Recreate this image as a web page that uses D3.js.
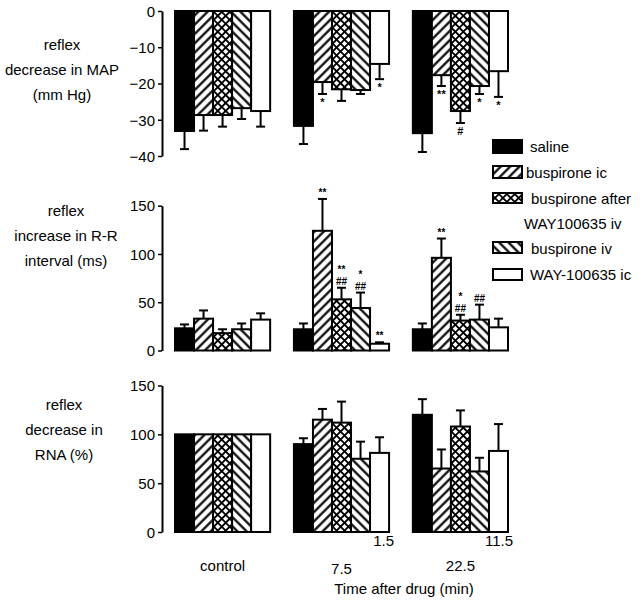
<!DOCTYPE html>
<html><head><meta charset="utf-8">
<script src="https://cdn.jsdelivr.net/npm/d3@7"></script>
<style>body{margin:0;background:#fff}svg{display:block}text{font-family:"Liberation Sans",Arial,sans-serif;fill:#000}</style>
</head><body><svg id="c" width="640" height="602"></svg>
<script>
const groups = ["control", "7.5", "22.5"];
const series = ["saline", "buspirone ic", "buspirone after WAY100635 iv", "buspirone iv", "WAY-100635 ic"];
const legendLines = [["saline"], ["buspirone ic"], ["buspirone after", "WAY100635 iv"], ["buspirone iv"], ["WAY-100635 ic"]];

// reflex decrease in MAP (mm Hg)
const mapMean = [[-33.1, -28.7, -28.7, -26.8, -27.6], [-31.7, -19.6, -21.6, -21.8, -14.6], [-33.7, -17.7, -27.6, -20.7, -16.6]];
const mapErr  = [[5.0, 4.3, 3.2, 3.0, 4.3], [5.0, 3.3, 3.2, 1.1, 4.2], [5.2, 3.0, 3.3, 2.2, 7.1]];
const mapTicks = [0, -10, -20, -30, -40];
const mapNotes = [["7.5", 1, ["*"]], ["7.5", 4, ["*"]], ["22.5", 1, ["**"]], ["22.5", 2, ["#"]], ["22.5", 3, ["*"]], ["22.5", 4, ["*"]]];

// reflex increase in R-R interval (ms)
const rrMean = [[23, 33, 18, 22, 32], [22, 124, 53, 44, 7], [22, 96, 31, 32, 24]];
const rrErr  = [[4, 8.5, 4, 6, 6.5], [6, 33, 12, 16, 1.5], [6, 20, 6, 15.5, 9]];
const rrTicks = [0, 50, 100, 150];
const rrNotes = [["7.5", 1, ["**"]], ["7.5", 2, ["**", "##"]], ["7.5", 3, ["*", "##"]], ["7.5", 4, ["**"]], ["22.5", 1, ["**"]], ["22.5", 2, ["*", "##"]], ["22.5", 3, ["##"]]];

// reflex decrease in RNA (%)
const rnaMean = [[100, 100, 100, 100, 100], [90, 115, 112, 75, 81], [120, 65, 108, 62, 83]];
const rnaErr  = [[0, 0, 0, 0, 0], [6, 11, 21.5, 17.5, 16], [16, 19.5, 16.5, 14, 27.5]];
const rnaTicks = [0, 50, 100, 150];

const xLabels = ["control", "7.5", "22.5"];
const extraLabels = [["7.5", "1.5"], ["22.5", "11.5"]];

const svg = d3.select("#c");
const defs = svg.append("defs");
function hatch(id, angle, period, w, cross) {
  const p = defs.append("pattern").attr("id", id).attr("patternUnits", "userSpaceOnUse")
    .attr("width", period).attr("height", period).attr("patternTransform", `rotate(${angle})`);
  p.append("rect").attr("width", period).attr("height", period).attr("fill", "#fff");
  p.append("line").attr("x1", period / 2).attr("x2", period / 2).attr("y1", 0).attr("y2", period)
    .attr("stroke", "#000").attr("stroke-width", w);
  if (cross) p.append("line").attr("y1", period / 2).attr("y2", period / 2).attr("x1", 0).attr("x2", period)
    .attr("stroke", "#000").attr("stroke-width", w);
}
hatch("fw", 45, 6.6, 2.2);
hatch("xh", 45, 5.6, 1.9, true);
hatch("bw", -45, 6.6, 2.2);
const fills = ["#000", "url(#fw)", "url(#xh)", "url(#bw)", "#fff"];

const x0 = d3.scaleBand().domain(groups).range([175, 508]).paddingInner(0.2).paddingOuter(0);
const x1 = d3.scaleBand().domain(d3.range(series.length)).range([0, x0.bandwidth()]);

function panel(yDom, yRange, ticks, mean, err, notes, labelLines, labelX, labelY0) {
  const y = d3.scaleLinear().domain(yDom).range(yRange);
  const g = svg.append("g");
  const ax = g.append("g").attr("transform", "translate(162,0)")
    .call(d3.axisLeft(y).tickValues(ticks).tickSize(4).tickSizeOuter(0).tickPadding(3).tickFormat(d3.format("d")));
  ax.select(".domain").attr("stroke-width", 2);
  ax.selectAll(".tick line").attr("stroke-width", 1.5);
  ax.selectAll("text").attr("font-size", 15).attr("font-family", "'Liberation Sans',Arial,sans-serif").attr("dy", "0.35em");
  groups.forEach((gr, gi) => {
    series.forEach((s, si) => {
      const v = mean[gi][si], e = err[gi][si];
      const bx = x0(gr) + x1(si), bw = x1.bandwidth();
      if (e > 0) {
        const cx = bx + bw / 2, end = v < 0 ? v - e : v + e;
        g.append("line").attr("x1", cx).attr("x2", cx).attr("y1", y(v)).attr("y2", y(end)).attr("stroke", "#000").attr("stroke-width", 2);
        g.append("line").attr("x1", cx - 4.5).attr("x2", cx + 4.5).attr("y1", y(end)).attr("y2", y(end)).attr("stroke", "#000").attr("stroke-width", 2);
      }
      g.append("rect").attr("x", bx).attr("width", bw)
        .attr("y", Math.min(y(0), y(v))).attr("height", Math.abs(y(v) - y(0)))
        .attr("fill", fills[si]).attr("stroke", "#000").attr("stroke-width", 2);
    });
  });
  (notes || []).forEach(([gr, si, lines]) => {
    const gi = groups.indexOf(gr);
    const v = mean[gi][si], e = err[gi][si];
    const cx = x0(gr) + x1(si) + x1.bandwidth() / 2;
    if (v < 0) {
      const end = y(v - e);
      lines.forEach((t, i) => g.append("text").attr("x", cx).attr("y", end + 12 + i * 11.5).attr("text-anchor", "middle")
        .attr("font-size", 11).attr("font-weight", "bold").text(t));
    } else {
      const end = y(v + e);
      lines.slice().reverse().forEach((t, i) => g.append("text").attr("x", cx).attr("y", end - 3 - i * 11.5).attr("text-anchor", "middle")
        .attr("font-size", 10).attr("font-weight", "bold").text(t));
    }
  });
  labelLines.forEach((t, i) => g.append("text").attr("x", labelX).attr("y", labelY0 + i * 25).attr("text-anchor", "middle").attr("font-size", 15).text(t));
  return y;
}

panel([-40, 0], [156, 11], mapTicks, mapMean, mapErr, mapNotes, ["reflex", "decrease in MAP", "(mm Hg)"], 62, 50);
panel([0, 150], [350.5, 205.7], rrTicks, rrMean, rrErr, rrNotes, ["reflex", "increase in R-R", "interval (ms)"], 66, 216);
panel([0, 150], [532, 385.5], rnaTicks, rnaMean, rnaErr, [], ["reflex", "decrease in", "RNA (%)"], 64, 410);

// legend
const leg = svg.append("g");
const swY = [140, 166, 193, 242, 269];
const swH = [13, 12, 10, 11, 11];
const txY = [152, 178, 204, 254, 280];
const txX = [530, 526, 531, 531, 530];
series.forEach((s, i) => {
  leg.append("rect").attr("x", 493).attr("y", swY[i]).attr("width", 29).attr("height", swH[i])
    .attr("fill", fills[i]).attr("stroke", "#000").attr("stroke-width", 2);
  legendLines[i].forEach((t, j) => leg.append("text").attr("x", j ? 524 : txX[i]).attr("y", txY[i] + j * 25).attr("font-size", 15).text(t));
});

// x labels
const xl = svg.append("g");
groups.forEach((gr, gi) => xl.append("text").attr("x", x0(gr) + x0.bandwidth() / 2).attr("y", gi === 1 ? 574 : 571)
  .attr("text-anchor", "middle").attr("font-size", 15).text(xLabels[gi]));
extraLabels.forEach(([gr, t]) => xl.append("text").attr("x", x0(gr) + x0.bandwidth() + 5).attr("y", 546)
  .attr("text-anchor", "end").attr("font-size", 15).text(t));
xl.append("text").attr("x", 404).attr("y", 594).attr("text-anchor", "middle").attr("font-size", 15).text("Time after drug (min)");
</script></body></html>
